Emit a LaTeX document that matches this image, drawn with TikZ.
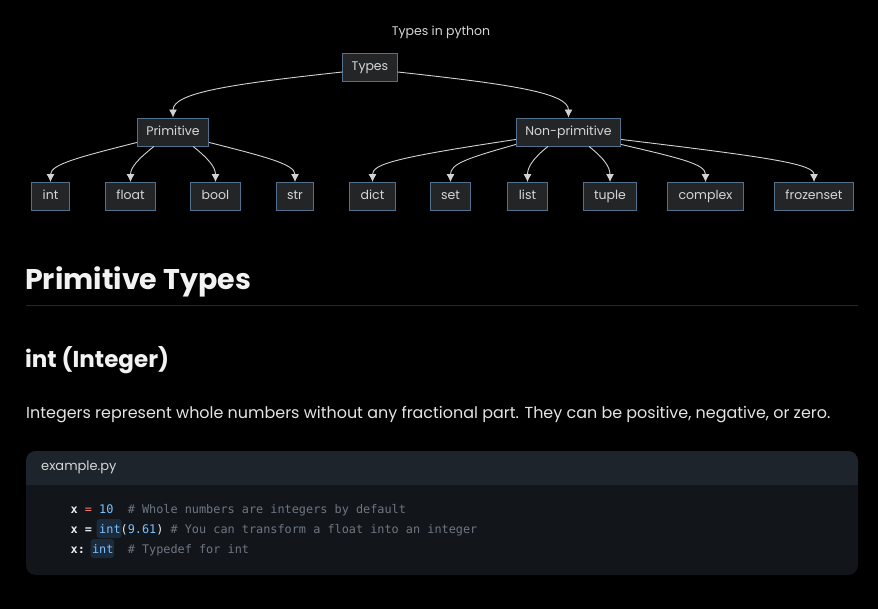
\documentclass[tikz,border=0pt]{standalone}
\usepackage{fontspec}
\setmainfont{Poppins}
\setmonofont{DejaVu Sans Mono}
\usetikzlibrary{arrows.meta,positioning}
\definecolor{pagebg}{HTML}{000000}
\definecolor{boxfill}{HTML}{232527}
\definecolor{boxline}{HTML}{52718F}
\definecolor{boxtext}{HTML}{D6D6D6}
\definecolor{edgecol}{HTML}{D2D2D2}
\definecolor{headtext}{HTML}{F2F2F2}
\definecolor{bodytext}{HTML}{E4E4E4}
\definecolor{rulecol}{HTML}{26282B}
\definecolor{cardhead}{HTML}{1E242C}
\definecolor{cardbody}{HTML}{12161B}
\definecolor{codevar}{HTML}{E6EDF3}
\definecolor{codeop}{HTML}{FF7B72}
\definecolor{codenum}{HTML}{79C0FF}
\definecolor{codecom}{HTML}{6E7681}
\definecolor{hlfill}{HTML}{1C2B3C}

\begin{document}
\begin{tikzpicture}[
      x = 1pt, y = -1pt,
      tbox/.style = { draw = boxline, fill = boxfill, text = boxtext, line width = 0.9pt,
                      minimum height = 28pt, text height = 9pt, text depth = 2.5pt,
                      inner xsep = 9pt, font = \fontsize{12.5}{15}\selectfont },
      leaf/.style = { tbox, inner xsep = 11pt },
      edgeto/.style = { draw = edgecol, line width = 0.9pt, -{Latex[length=8pt,width=8pt]} },
      hl/.style = { fill = hlfill, rounded corners = 3pt, minimum width = 25pt, minimum height = 19pt, inner sep = 0 },
      code/.style = { anchor = base west, inner sep = 0, text = codecom,
                      font = \ttfamily\fontsize{11.85}{14}\selectfont }
      ]

    \fill [pagebg] (0,0) rectangle (878,609);

    % tree
    \node [text = boxtext, font = \fontsize{12.5}{15}\selectfont] (title) at (441,32) {Types in python};
    \node [tbox] (types) at (370,67.5) {Types};
    \node [tbox] (prim) at (173,132) {Primitive};
    \node [tbox] (nonprim) at (568.5,132) {Non-primitive};

    \node [leaf] (int) at (50.5,196.5) {int};
    \node [leaf] (float) at (130.5,196.5) {float};
    \node [leaf] (bool) at (215.5,196.5) {bool};
    \node [leaf] (str) at (295,196.5) {str};
    \node [leaf] (dict) at (372.5,196.5) {dict};
    \node [leaf] (set) at (450.5,196.5) {set};
    \node [leaf] (list) at (527.5,196.5) {list};
    \node [leaf] (tuple) at (610,196.5) {tuple};
    \node [leaf] (complex) at (705.5,196.5) {complex};
    \node [leaf] (frozenset) at (814,196.5) {frozenset};

    \draw [edgeto] ([yshift=-4.5pt]types.west) .. controls +(-110,12) and +(0,-25) .. (prim.north);
    \draw [edgeto] ([yshift=-4.5pt]types.east) .. controls +(110,12) and +(0,-25) .. (nonprim.north);

    \draw [edgeto] ([yshift=4pt]prim.south west) .. controls +(-55,14) and +(0,-18) .. (int.north);
    \draw [edgeto] ([xshift=17pt]prim.south west) .. controls +(-15,12) and +(0,-15) .. (float.north);
    \draw [edgeto] ([xshift=-16pt]prim.south east) .. controls +(15,12) and +(0,-15) .. (bool.north);
    \draw [edgeto] ([yshift=4pt]prim.south east) .. controls +(55,14) and +(0,-18) .. (str.north);

    \draw [edgeto] ([yshift=7pt]nonprim.south west) .. controls +(-120,18) and +(0,-18) .. (dict.north);
    \draw [edgeto] ([yshift=2pt]nonprim.south west) .. controls +(-50,14) and +(0,-18) .. (set.north);
    \draw [edgeto] ([xshift=32pt]nonprim.south west) .. controls +(-15,12) and +(0,-15) .. (list.north);
    \draw [edgeto] ([xshift=-32pt]nonprim.south east) .. controls +(15,12) and +(0,-15) .. (tuple.north);
    \draw [edgeto] ([yshift=2pt]nonprim.south east) .. controls +(60,14) and +(0,-18) .. (complex.north);
    \draw [edgeto] ([yshift=7pt]nonprim.south east) .. controls +(150,18) and +(0,-18) .. (frozenset.north);

    % text below
    \node [anchor = base west, inner sep = 0, text = headtext, font = \bfseries\fontsize{28.5}{32}\selectfont] (h1) at (25,290) {Primitive Types};
    \draw [rulecol, line width = 1pt] (26,306) -- (858,306);
    \node [anchor = base west, inner sep = 0, text = headtext, font = \bfseries\fontsize{23}{28}\selectfont] (h2) at (25,367) {int (Integer)};
    \node [anchor = base west, inner sep = 0, text = bodytext, font = \fontsize{15.95}{20}\selectfont] (para) at (26,418) {Integers represent whole numbers without any fractional part. They can be positive, negative, or zero.};

    % code card
    \fill [cardbody, rounded corners = 10pt] (26,451) rectangle (858,575);
    \fill [cardhead, rounded corners = 10pt] (26,451) rectangle (858,485);
    \fill [cardhead] (26,470) rectangle (858,485);
    \node [anchor = west, inner sep = 0, text = boxtext, font = \fontsize{13}{15}\selectfont] (fname) at (41,467) {example.py};

    \node [hl] (hlA) at (109.2,528.5) {};
    \node [hl, minimum width = 23.5pt] (hlB) at (102.4,548.5) {};

    \node [code] (lineA) at (70.5,513) {\textcolor{codevar}{\bfseries x} \textcolor{codeop}{=} \textcolor{codenum}{10}\ \ \# Whole numbers are integers by default};
    \node [code] (lineB) at (70.5,533) {\textcolor{codevar}{\bfseries x =} \textcolor{codenum}{int}\textcolor{codevar}{(}\textcolor{codenum}{9.61}\textcolor{codevar}{)} \# You can transform a float into an integer};
    \node [code] (lineC) at (70.5,553) {\textcolor{codevar}{\bfseries x:} \textcolor{codenum}{int}\ \ \# Typedef for int};
\end{tikzpicture}
\end{document}
